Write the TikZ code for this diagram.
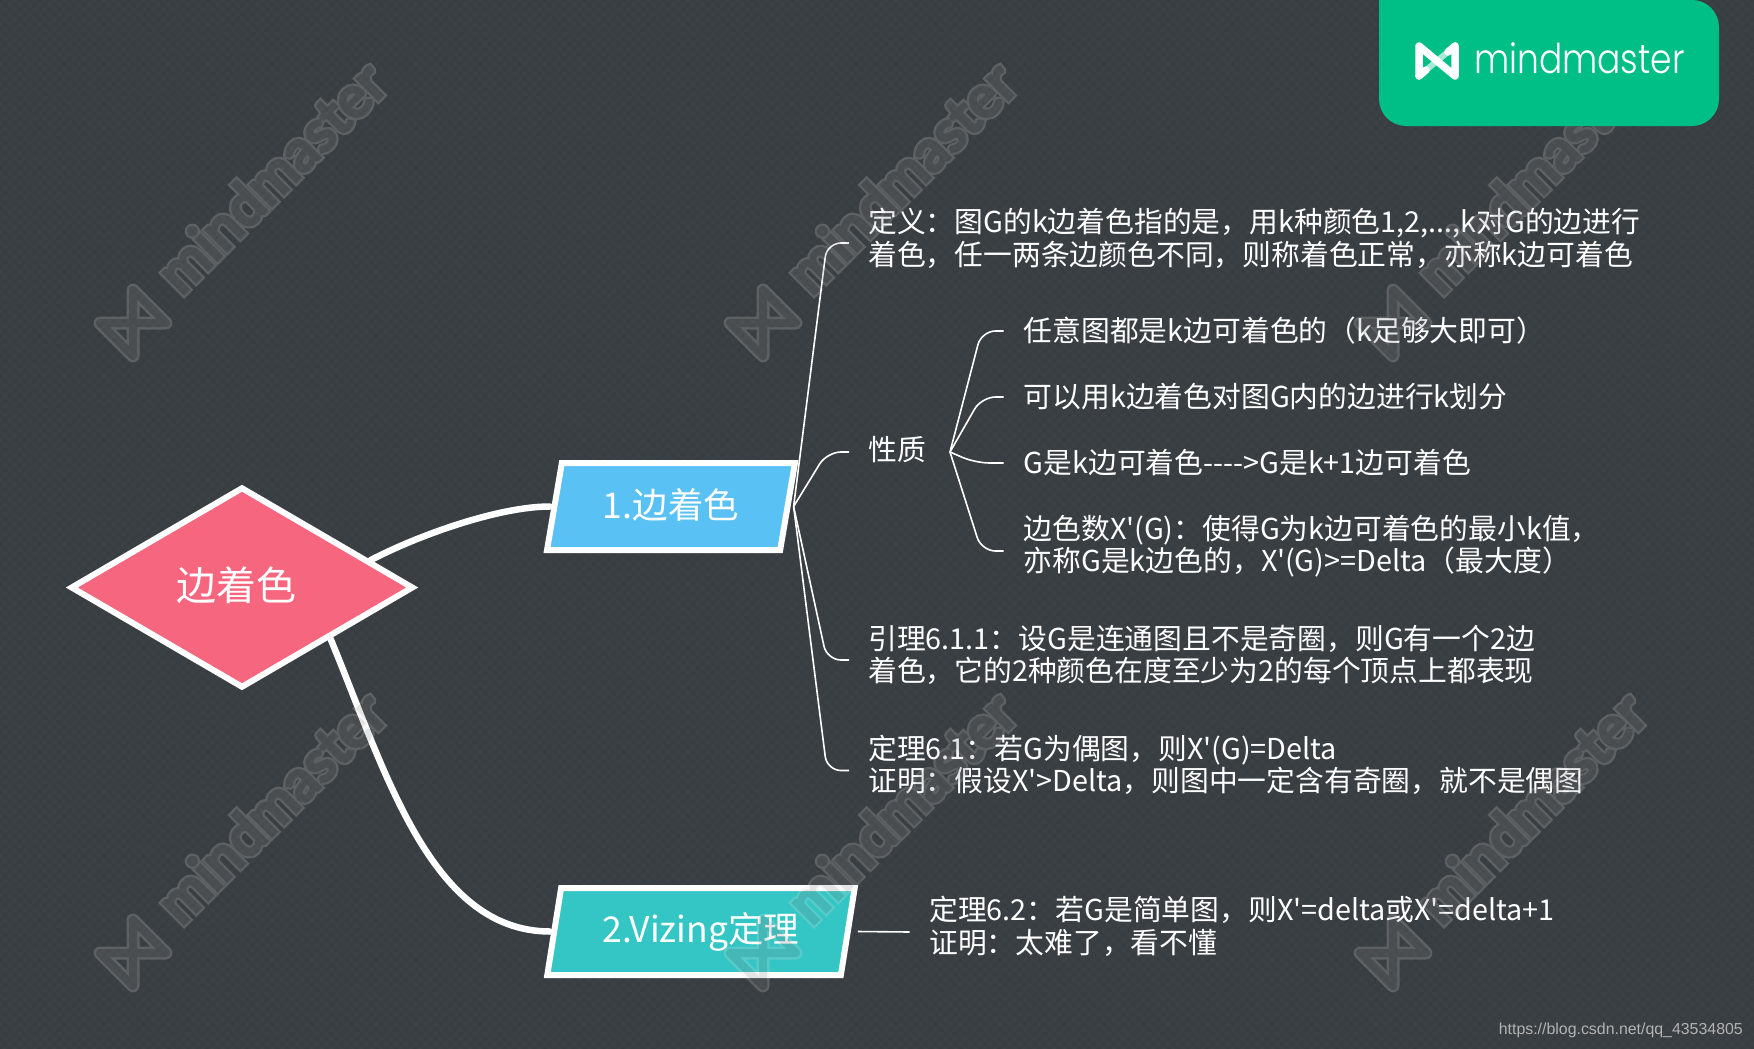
\documentclass[tikz,border=0pt]{standalone}
\usepackage{fontspec}
\newfontfamily\cjk{Noto Sans CJK SC}
\newfontfamily\logofont{Poppins Light}
\newfontfamily\wmouter[FakeBold=14]{Lato}
\newfontfamily\wminner[FakeBold=6]{Lato}
\newfontfamily\urlfont{Liberation Sans}
\usetikzlibrary{calc,shapes.geometric,patterns.meta}
\definecolor{pagebg}{HTML}{3C4145}
\definecolor{rootpink}{HTML}{F7667F}
\definecolor{topicblue}{HTML}{5AC1F5}
\definecolor{topicteal}{HTML}{33C6C4}
\definecolor{logogreen}{HTML}{00BF86}
\tikzset{
  rootbox/.style={shape=diamond, draw=white, fill=rootpink, line width=6pt, shape aspect=1.72,
    minimum width=343pt, minimum height=201pt, inner sep=0pt, text=white, font=\cjk\fontsize{40}{48}\selectfont},
  topicbox/.style={shape=trapezium, trapezium left angle=76, trapezium right angle=104, trapezium stretches=true,
    draw=white, line width=6pt, minimum height=87pt, inner sep=0pt, text=white, font=\cjk\fontsize{35.5}{40}\selectfont},
  leaf/.style={anchor=west, align=left, inner sep=0pt, text=white, font=\cjk\fontsize{28.8}{32.5}\selectfont},
  branch/.style={draw=white, line width=6.5pt, line cap=round},
  twig/.style={draw=white, line width=1.6pt, rounded corners=14pt},
  markicon/.style={line join=round},
}
\begin{document}
\begin{tikzpicture}[x=1pt,y=-1pt]
  \useasboundingbox (0,0) rectangle (1754,1049);
  \fill[pagebg] (0,0) rectangle (1754,1049);
  % faint weave of the page
  \fill[pattern={Lines[angle=45,distance=7pt,line width=3.5pt]}, pattern color=black, opacity=.025] (0,0) rectangle (1754,1049);
  \fill[pattern={Lines[angle=-45,distance=7pt,line width=3.5pt]}, pattern color=black, opacity=.025] (0,0) rectangle (1754,1049);
  % root and the two topics
  \node[rootbox] (root) at (242,587.5) {\raisebox{7pt}{边着色}\kern11pt};
  \node[topicbox, fill=topicblue, minimum width=248pt] (topicA) at (671,506.5) {\raisebox{7pt}{1.边着色}};
  \node[topicbox, fill=topicteal, minimum width=308pt] (topicB) at (701,931.5) {2.Vizing定理};
  \draw[branch] (root.12) .. controls +(50,-26) and +(-50,0) .. ([xshift=-1.5pt]topicA.west);
  \draw[branch] (root.-30) .. controls (385,770) and (430,931) .. ([xshift=-1.5pt]topicB.west);
  % leaves of the first topic
  \node[leaf] (dingyi) at (868,238.5) {定义：图G的k边着色指的是，用k种颜色1,2,...,k对G的边进行\\着色，任一两条边颜色不同，则称着色正常，亦称k边可着色};
  \node[leaf] (xingzhi) at (868,450) {性质};
  \node[leaf] (yinli) at (868,655) {引理6.1.1：设G是连通图且不是奇圈，则G有一个2边\\着色，它的2种颜色在度至少为2的每个顶点上都表现};
  \node[leaf] (dingli) at (868,765) {定理6.1：若G为偶图，则X'(G)=Delta\\证明：假设X'>Delta，则图中一定含有奇圈，就不是偶图};
  \draw[twig] ([xshift=3pt]topicA.east) -- ([xshift=-41pt,yshift=-4.5pt]dingyi.west) -- ([xshift=-19pt,yshift=-4.5pt]dingyi.west);
  \draw[twig] ([xshift=3pt]topicA.east) -- ([xshift=-41pt,yshift=-2pt]xingzhi.west) -- ([xshift=-19pt,yshift=-2pt]xingzhi.west);
  \draw[twig] ([xshift=3pt]topicA.east) -- ([xshift=-41pt,yshift=-5pt]yinli.west) -- ([xshift=-19pt,yshift=-5pt]yinli.west);
  \draw[twig] ([xshift=3pt]topicA.east) -- ([xshift=-41pt,yshift=-5.5pt]dingli.west) -- ([xshift=-19pt,yshift=-5.5pt]dingli.west);
  % properties
  \node[leaf] (renyi) at (1023.5,331) {任意图都是k边可着色的（k足够大即可）};
  \node[leaf] (keyi) at (1023.5,397) {可以用k边着色对图G内的边进行k划分};
  \node[leaf] (gshi) at (1023.5,463) {G是k边可着色---->G是k+1边可着色};
  \node[leaf] (bianse) at (1023.5,546) {边色数X'(G)：使得G为k边可着色的最小k值，\\亦称G是k边色的，X'(G)>=Delta（最大度）};
  \coordinate (fork) at (950,452);
  \draw[twig] (fork) -- ([xshift=-42pt]renyi.west) -- ([xshift=-20pt]renyi.west);
  \draw[twig] (fork) -- ([xshift=-42pt]keyi.west) -- ([xshift=-20pt]keyi.west);
  \draw[twig] (fork) -- ([xshift=-48pt]gshi.west) -- ([xshift=-20pt]gshi.west);
  \draw[twig] (fork) -- ([xshift=-42pt,yshift=-5pt]bianse.west) -- ([xshift=-20pt,yshift=-5pt]bianse.west);
  % second topic
  \node[leaf] (vizing) at (929,926.5) {定理6.2：若G是简单图，则X'=delta或X'=delta+1\\证明：太难了，看不懂};
  \draw[twig] ([xshift=7pt]topicB.east) -- ([xshift=-19.5pt,yshift=-5.5pt]vizing.west);
  % watermark
  \begin{scope}[transparency group, opacity=.22]
    \foreach \wx in {0,630,1260} \foreach \wy in {0,630} {
      \begin{scope}[shift={(\wx,\wy)}]
        \draw[markicon, line width=13pt, color=black!14!white] (100,323) -- (133,356) -- (133,290) -- (166,323) -- cycle;
        \draw[markicon, line width=8pt, color=black!48!white] (100,323) -- (133,356) -- (133,290) -- (166,323) -- cycle;
        \node[rotate=45, text=black!14!white, font=\wmouter\fontsize{57}{60}\selectfont] (mark\wx\wy) at (271,177) {mindmaster};
        \node[rotate=45, text=black!48!white, font=\wminner\fontsize{57}{60}\selectfont] at (mark\wx\wy) {mindmaster};
      \end{scope}
    }
  \end{scope}
  % logo
  \fill[logogreen, rounded corners=27pt] (1379,0) -- (1379,126) -- (1719,126) -- (1719,0) [sharp corners] -- cycle;
  \draw[line width=6pt, color=white!65!logogreen] (1419,76) -- (1455,46);
  \draw[line width=7.5pt, white, line join=round, line cap=round] (1419,76) -- (1419,46) -- (1455,76) -- (1455,46);
  \draw[line width=7.5pt, white, line cap=round] (1419,76) -- (1426,70) (1455,46) -- (1448,52);
  \node[anchor=west, inner sep=0pt, text=white, font=\logofont\fontsize{41}{45}\selectfont] (logoname) at (1474,58.5) {\scalebox{.84}[1]{mindmaster}};
  \node[anchor=east, inner sep=0pt, text=black!30!white, font=\urlfont\fontsize{15.9}{18}\selectfont] (urlmark) at (1743,1030.5) {https://blog.csdn.net/qq\_43534805};
\end{tikzpicture}
\end{document}
